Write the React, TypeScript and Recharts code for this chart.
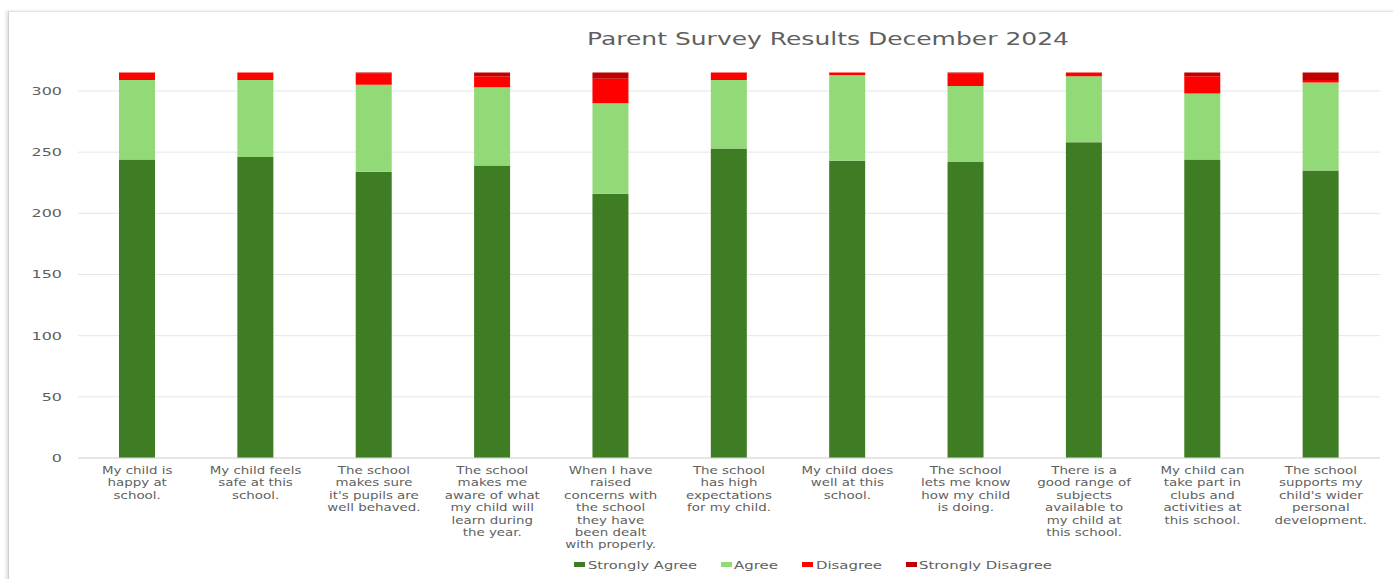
import React from 'react';
import { BarChart, Bar, XAxis, YAxis, CartesianGrid } from 'recharts';

const categoryLines: string[][] = [
  ['My child is', 'happy at', 'school.'],
  ['My child feels', 'safe at this', 'school.'],
  ['The school', 'makes sure', "it's pupils are", 'well behaved.'],
  ['The school', 'makes me', 'aware of what', 'my child will', 'learn during', 'the year.'],
  ['When I have', 'raised', 'concerns with', 'the school', 'they have', 'been dealt', 'with properly.'],
  ['The school', 'has high', 'expectations', 'for my child.'],
  ['My child does', 'well at this', 'school.'],
  ['The school', 'lets me know', 'how my child', 'is doing.'],
  ['There is a', 'good range of', 'subjects', 'available to', 'my child at', 'this school.'],
  ['My child can', 'take part in', 'clubs and', 'activities at', 'this school.'],
  ['The school', 'supports my', "child's wider", 'personal', 'development.'],
];
const categories = categoryLines.map((l) => l.join(' '));

const stronglyAgree = [244, 246, 234, 239, 216, 253, 243, 242, 258, 244, 235];
const agree = [65, 63, 71, 64, 74, 56, 70, 62, 54, 54, 72];
const disagree = [6, 6, 9, 9, 20, 6, 2, 10, 3, 14, 2];
const stronglyDisagree = [0, 0, 1, 3, 5, 0, 0, 1, 0, 3, 6];

const yTicks = [0, 50, 100, 150, 200, 250, 300];
const yMax = 320;
const title = 'Parent Survey Results December 2024';

const seriesNames = ['Strongly Agree', 'Agree', 'Disagree', 'Strongly Disagree'];
const seriesKeys = ['sa', 'a', 'd', 'sd'];
const seriesColors = ['#3f7d24', '#91da77', '#ff0000', '#c00000'];

const data = categories.map((name, i) => ({
  name,
  sa: stronglyAgree[i],
  a: agree[i],
  d: disagree[i],
  sd: stronglyDisagree[i],
}));

const FONT = '"DejaVu Sans", sans-serif';
const TEXT = '#5f5f5f';

const XTick = (props: any) => {
  const { x, y, payload } = props;
  const lines = categoryLines[payload.index] || [payload.value];
  return (
    <g transform={`translate(${x},${y + 16}) scale(1.22,1)`}>
      {lines.map((ln, i) => (
        <text
          key={i}
          x={0}
          y={i * 12.4}
          textAnchor="middle"
          fontFamily={FONT}
          fontSize={11}
          fill={TEXT}
        >
          {ln}
        </text>
      ))}
    </g>
  );
};

const YTick = (props: any) => {
  const { x, y, payload } = props;
  return (
    <g transform={`translate(${x},${y}) scale(1.45,1)`}>
      <text x={0} y={0} dy="0.36em" textAnchor="end" fontFamily={FONT} fontSize={11} fill={TEXT}>
        {payload.value}
      </text>
    </g>
  );
};

const legendLayout = [
  { ix: 574, tx: 588, tl: 109 },
  { ix: 721, tx: 734, tl: 44 },
  { ix: 802, tx: 816, tl: 66 },
  { ix: 906, tx: 919, tl: 133 },
];

export default function App() {
  return (
    <div style={{ position: 'absolute', left: 0, top: 0, width: 1393, height: 579, background: '#fff', overflow: 'hidden' }}>
      <div
        style={{
          position: 'absolute',
          left: 8,
          top: 11,
          width: 1400,
          height: 600,
          borderLeft: '1px solid #cfcfcf',
          borderTop: '1px solid #e2e2e2',
          boxShadow: '-2px 0 3px rgba(0,0,0,0.12)',
        }}
      />
      <div style={{ position: 'absolute', left: 0, top: 0 }}>
        <BarChart
          width={1393}
          height={579}
          data={data}
          margin={{ top: 66.5, right: 13, bottom: 21, left: 18 }}
          barSize={36}
        >
          <CartesianGrid
            vertical={false}
            stroke="#e6e6e6"
            horizontalCoordinatesGenerator={({ offset }: any) =>
              yTicks.map((v) => offset.top + offset.height * (1 - v / yMax))
            }
          />
          <XAxis
            dataKey="name"
            interval={0}
            tickLine={false}
            tickSize={0}
            tickMargin={0}
            axisLine={{ stroke: '#d9d9d9' }}
            height={100}
            tick={<XTick />}
          />
          <YAxis
            width={60}
            domain={[0, yMax]}
            ticks={yTicks}
            axisLine={false}
            tickLine={false}
            tickSize={0}
            tickMargin={16}
            tick={<YTick />}
          />
          {seriesKeys.map((k, i) => (
            <Bar key={k} dataKey={k} name={seriesNames[i]} stackId="s" fill={seriesColors[i]} isAnimationActive={false} />
          ))}
        </BarChart>
      </div>
      <svg width={1393} height={579} style={{ position: 'absolute', left: 0, top: 0, pointerEvents: 'none' }}>
        <text
          x={587}
          y={45}
          fontFamily={FONT}
          fontSize={17}
          fill={TEXT}
          textLength={482}
          lengthAdjust="spacingAndGlyphs"
        >
          {title}
        </text>
        {seriesNames.map((n, i) => (
          <g key={n}>
            <rect x={legendLayout[i].ix} y={562} width={11} height={5} fill={seriesColors[i]} />
            <text
              x={legendLayout[i].tx}
              y={569}
              fontFamily={FONT}
              fontSize={11}
              fill={TEXT}
              textLength={legendLayout[i].tl}
              lengthAdjust="spacingAndGlyphs"
            >
              {n}
            </text>
          </g>
        ))}
      </svg>
    </div>
  );
}
